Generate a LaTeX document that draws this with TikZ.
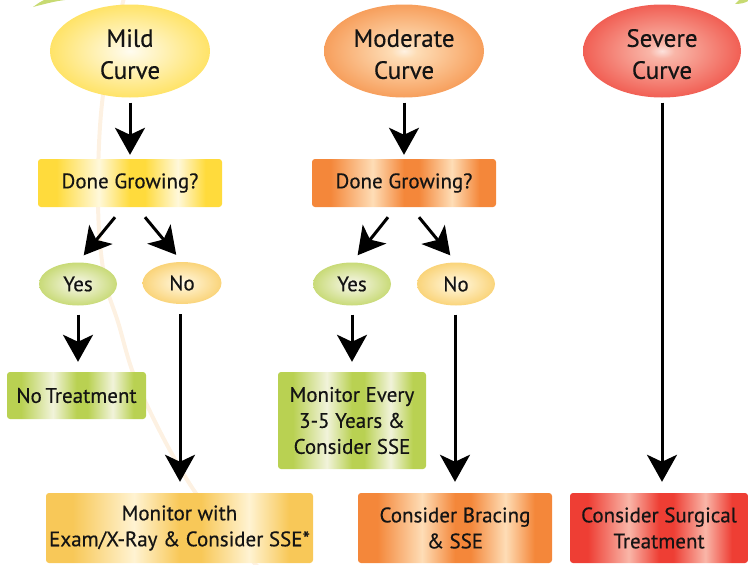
\documentclass[tikz,border=0pt]{standalone}
\usepackage{fontspec}
\setmainfont{PT Sans}[FakeBold=0.4]
\usetikzlibrary{arrows.meta,shapes.geometric}
\definecolor{yelD}{HTML}{FFDB3C}
\definecolor{yelL}{HTML}{FFF8DA}
\definecolor{oraD}{HTML}{F4873A}
\definecolor{oraL}{HTML}{FEDDB6}
\definecolor{redD}{HTML}{EE3E34}
\definecolor{redL}{HTML}{F9B6A8}
\definecolor{grnD}{HTML}{B9D152}
\definecolor{grnL}{HTML}{F1F3DA}
\definecolor{palD}{HTML}{F8C858}
\definecolor{palL}{HTML}{FFF3D2}
\definecolor{curveC}{HTML}{FDF1E2}
\definecolor{leafC}{HTML}{C7DA72}
\definecolor{txt}{HTML}{141414}
\newcommand{\mkstripe}[3]{\pgfdeclarehorizontalshading{#1}{100bp}{color(0bp)=(#2); color(25bp)=(#2); color(30bp)=(#2); color(41.5bp)=(#3); color(50bp)=(#2); color(54bp)=(#2); color(63bp)=(#3); color(70.5bp)=(#2); color(75bp)=(#2); color(100bp)=(#2)}}
\newcommand{\mkrad}[3]{\pgfdeclareradialshading{#1}{\pgfpoint{0bp}{0bp}}{color(0bp)=(#3!40!white); color(4bp)=(#3); color(33bp)=(#2); color(50bp)=(#2)}}
\mkstripe{yelS}{yelD}{yelL}
\mkstripe{oraS}{oraD}{oraL}
\mkstripe{redS}{redD}{redL}
\mkstripe{grnS}{grnD}{grnL}
\mkstripe{palS}{palD}{palL}
\mkrad{yelR}{yelD}{yelL}
\mkrad{oraR}{oraD}{oraL}
\mkrad{redR}{redD}{redL}
\mkrad{grnR}{grnD}{grnL}
\mkrad{palR}{palD}{palL}
\begin{document}
\begin{tikzpicture}[x=1pt,y=-1pt,
  every node/.style={text=txt},
  bigell/.style={ellipse,inner sep=0pt,minimum width=160pt,minimum height=93pt,align=center,font=\fontsize{25}{32}\selectfont,text height=56pt},
  smallell/.style={ellipse,inner sep=0pt,minimum width=78pt,minimum height=43pt,font=\fontsize{21}{26}\selectfont},
  box/.style={rectangle,rounded corners=3pt,inner sep=0pt,align=center,font=\fontsize{21}{26}\selectfont},
  arr/.style={line width=3pt,-{Stealth[length=27pt,width=30pt,inset=7pt]}},
  bgcurve/.style={draw=curveC,line width=4pt}
]
\useasboundingbox (0,0) rectangle (748,565);
% background decoration
\draw[bgcurve] plot[smooth,tension=0.6] coordinates {(124,-2) (103,95) (98,200) (104,275) (118,322) (140,390) (193,489) (258,567)};
\fill[leafC] (33,7) .. controls (44,4) and (56,1) .. (65,0) -- (44,0) .. controls (40,2) .. (33,7) -- cycle;
\fill[leafC] (735,4) .. controls (740,4) and (745,3) .. (748,1) -- (748,0) -- (739,0) -- cycle;
% top ellipses
\node[bigell,shading=yelR] (e1) at (130,51) {Mild\\Curve};
\node[bigell,shading=oraR] (e2) at (404,51) {Moderate\\Curve};
\node[bigell,shading=redR,minimum width=158pt] (e3) at (662,51) {Severe\\Curve};
% done growing boxes
\node[box,shading=yelS,minimum width=184pt,minimum height=48pt] (d1) at (130,183) {Done Growing?};
\node[box,shading=oraS,minimum width=184pt,minimum height=48pt] (d2) at (404,183) {Done Growing?};
% yes / no
\node[smallell,shading=grnR] (y1) at (78,284) {Yes};
\node[smallell,shading=palR,minimum width=79pt,minimum height=42pt] (n1) at (182,283) {No};
\node[smallell,shading=grnR] (y2) at (352,284) {Yes};
\node[smallell,shading=palR] (n2) at (456,284) {No};
% outcome boxes
\node[box,shading=grnS,minimum width=139pt,minimum height=47pt] (t1) at (76.5,395.5) {No\kern-2pt\ Treatment};
\node[box,shading=palS,minimum width=267pt,minimum height=70pt] (m1) at (179.5,528) {Monitor with\\Exam/X-Ray \& Consider SSE*};
\node[box,shading=grnS,minimum width=148pt,minimum height=97pt] (m2) at (352,420.5) {Monitor Every\\3-5 Years \&\\Consider SSE};
\node[box,shading=oraS,minimum width=194pt,minimum height=70pt] (b2) at (455,528) {Consider Bracing\\\& SSE};
\node[box,shading=redS,minimum width=178pt,minimum height=70pt] (s3) at (659,528) {Consider Surgical\\Treatment};
% arrows
\draw[arr,shorten <=5pt,shorten >=4pt] (e1.south) -- (d1.north);
\draw[arr,shorten <=5pt,shorten >=4pt] (e2.south) -- (d2.north);
\draw[arr,shorten <=5pt,shorten >=11pt] (e3.south) -- (e3.south |- s3.north);
\draw[arr,shorten >=9pt] ([xshift=-15pt,yshift=-10pt]d1.south) -- (y1.north);
\draw[arr,shorten >=9pt] ([xshift=15pt,yshift=-10pt]d1.south) -- (n1.north);
\draw[arr,shorten >=9pt] ([xshift=-16pt,yshift=-10pt]d2.south) -- (y2.north);
\draw[arr,shorten >=9pt] ([xshift=15pt,yshift=-10pt]d2.south) -- (n2.north);
\draw[arr,shorten <=9pt,shorten >=10pt] (y1.south) -- (y1.south |- t1.north);
\draw[arr,shorten <=10pt,shorten >=11pt] ([xshift=-2pt]n1.south) -- ([xshift=-2pt]n1.south |- m1.north);
\draw[arr,shorten <=9pt,shorten >=10pt] (y2.south) -- (y2.south |- m2.north);
\draw[arr,shorten <=9pt,shorten >=11pt] ([xshift=-1pt]n2.south) -- ([xshift=-1pt]n2.south |- b2.north);
\end{tikzpicture}
\end{document}
